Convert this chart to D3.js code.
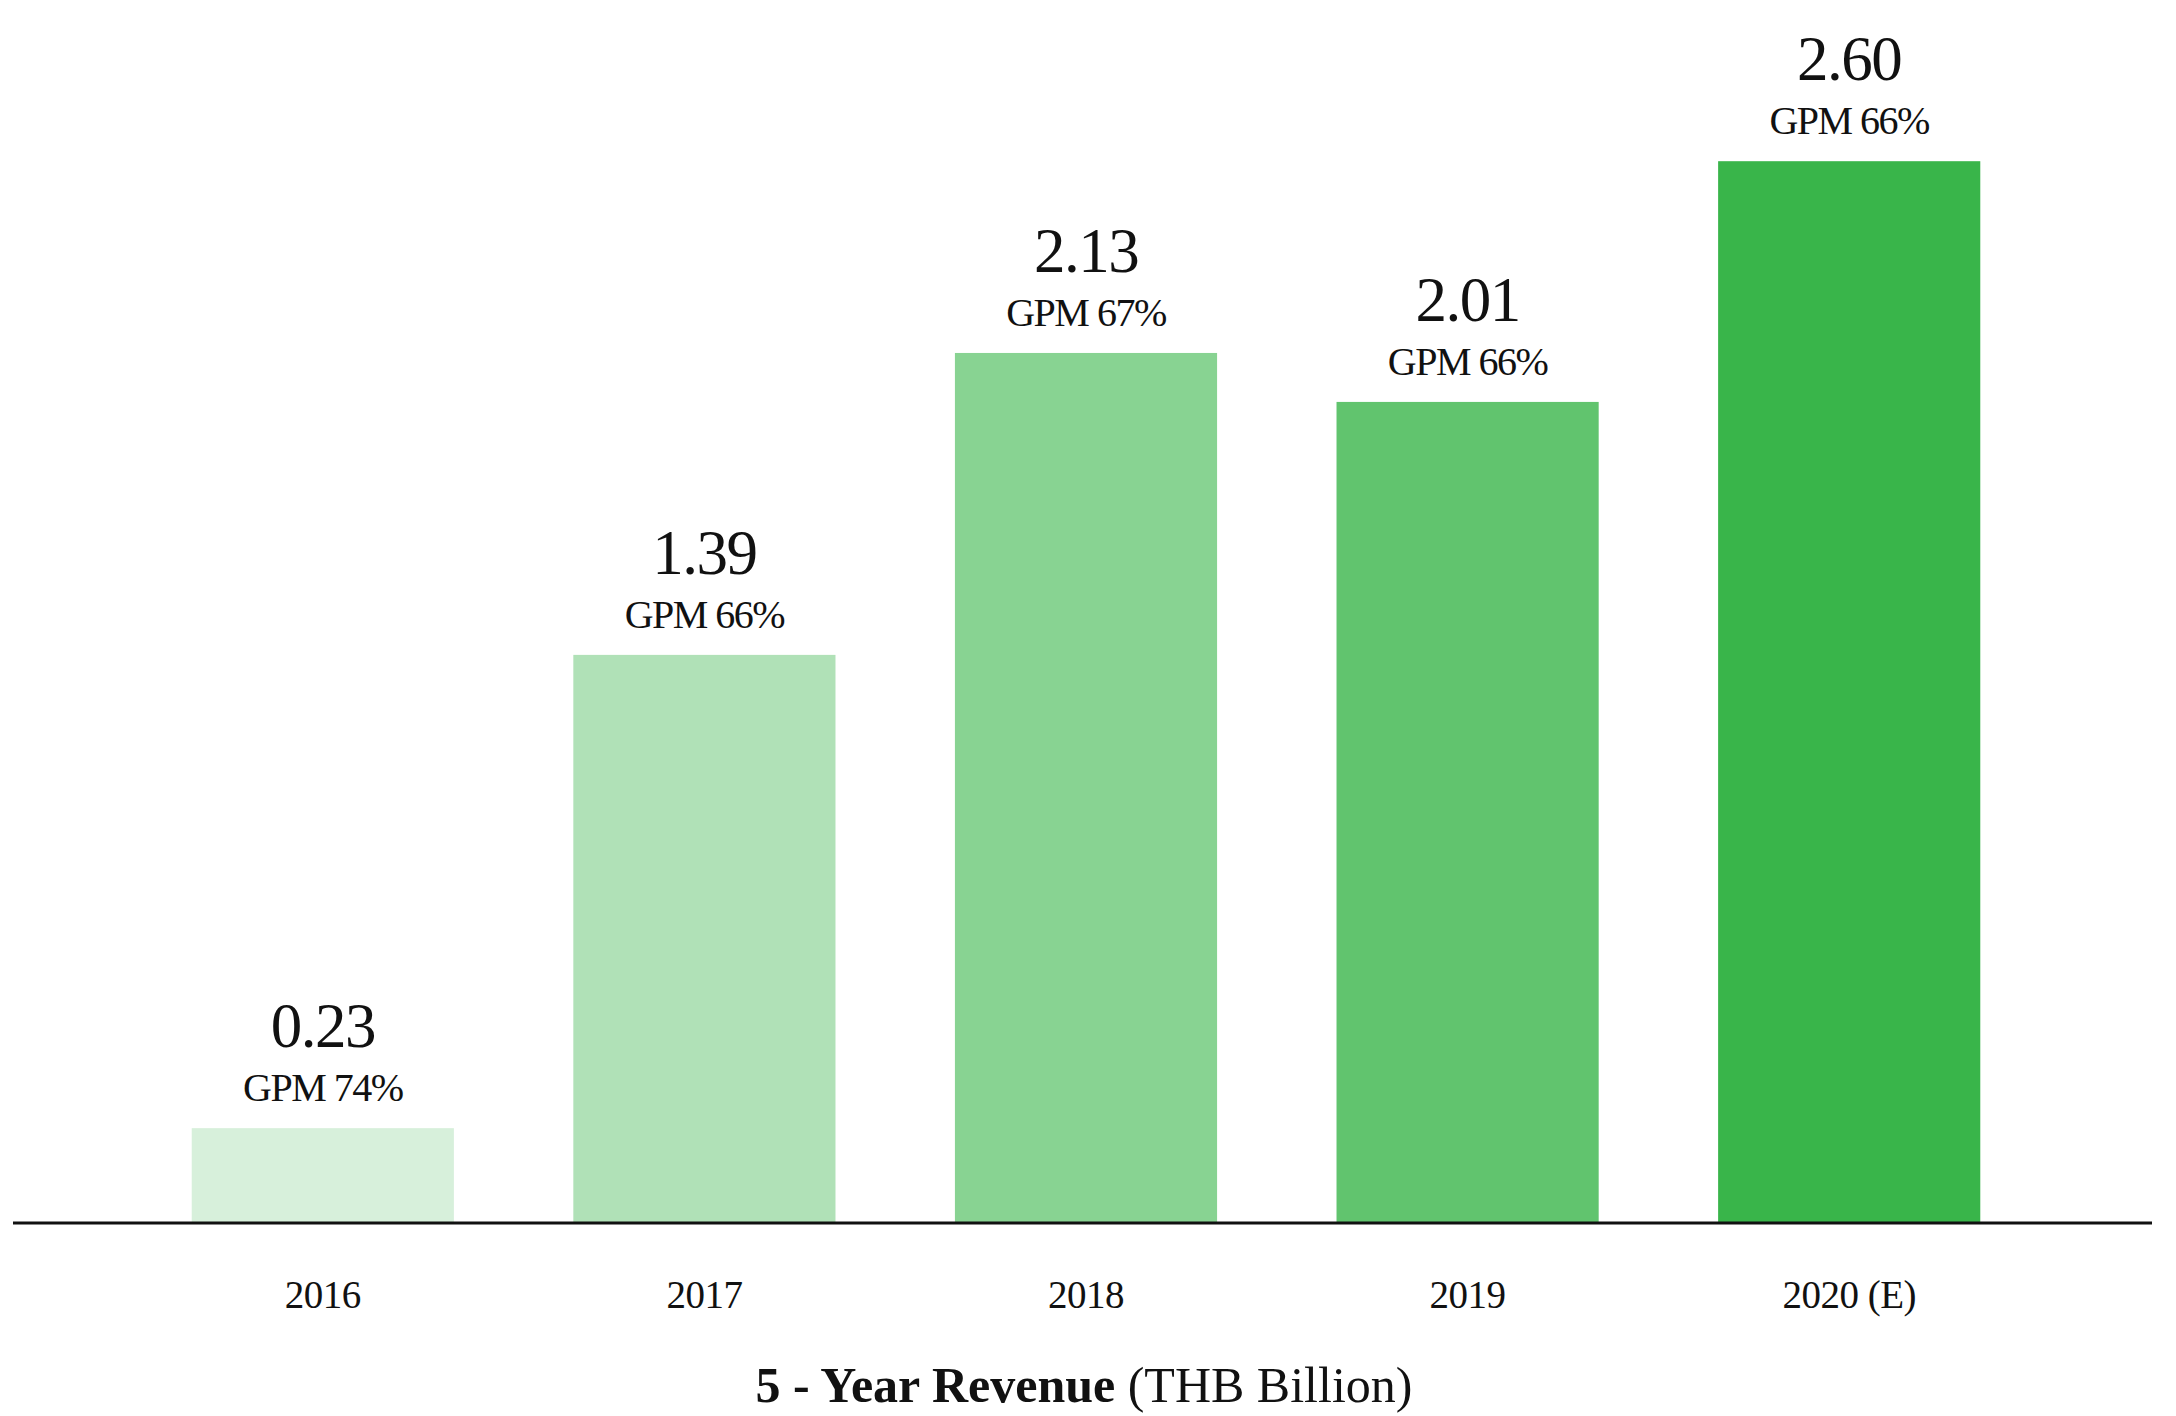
<!DOCTYPE html>
<html>
<head>
<meta charset="utf-8">
<script src="https://cdn.jsdelivr.net/npm/d3@7/dist/d3.min.js"></script>
<style>
  html, body { margin: 0; padding: 0; background: #ffffff; }
  svg { display: block; }
  text { font-family: "Liberation Serif", "DejaVu Serif", serif; fill: #111; }
</style>
</head>
<body>
<svg id="chart" width="2176" height="1416"></svg>
<script>
// Revenue by year (THB billion) and gross profit margin
const years = ["2016", "2017", "2018", "2019", "2020 (E)"];
const revenue = [0.23, 1.39, 2.13, 2.01, 2.60];
const gpm = [74, 66, 67, 66, 66];
const valueLabels = ["0.23", "1.39", "2.13", "2.01", "2.60"];

// Fill shades, light to full green
const palette = ["#d7f0db", "#b0e1b7", "#88d392", "#61c46e", "#39b54a"];

const W = 2176, H = 1416;
const baseY = 1222;

const svg = d3.select("#chart");

const x = d3.scaleBand()
  .domain(years)
  .range([132, 2040])
  .paddingInner(0.313)
  .paddingOuter(0.1565);

const y = d3.scaleLinear()
  .domain([0, 2.6])
  .range([baseY, baseY - 2.6 * 408]);

const rows = years.map((yr, i) => ({ year: yr, value: revenue[i], gpm: gpm[i], label: valueLabels[i], color: palette[i] }));

// Bars
svg.append("g")
  .selectAll("rect")
  .data(rows)
  .join("rect")
  .attr("x", d => x(d.year))
  .attr("y", d => y(d.value))
  .attr("width", x.bandwidth())
  .attr("height", d => y(0) - y(d.value))
  .attr("fill", d => d.color);

// Value and margin labels above each bar
const labels = svg.append("g");
labels.selectAll("text.val")
  .data(rows)
  .join("text")
  .attr("class", "val")
  .attr("x", d => x(d.year) + x.bandwidth() / 2)
  .attr("y", d => y(d.value) - 81)
  .attr("text-anchor", "middle")
  .attr("font-size", 63)
  .attr("letter-spacing", -1.5)
  .text(d => d.label);

labels.selectAll("text.gpm")
  .data(rows)
  .join("text")
  .attr("class", "gpm")
  .attr("x", d => x(d.year) + x.bandwidth() / 2)
  .attr("y", d => y(d.value) - 27)
  .attr("text-anchor", "middle")
  .attr("font-size", 40)
  .attr("letter-spacing", -1.5)
  .text(d => `GPM ${d.gpm}%`);

// Category axis
const axis = svg.append("g")
  .attr("transform", `translate(0,${baseY})`)
  .call(d3.axisBottom(x).tickSize(0).tickPadding(0));
axis.select(".domain").remove();
axis.selectAll(".tick text")
  .attr("y", 86)
  .attr("dy", 0)
  .attr("font-size", 39)
  .attr("letter-spacing", -0.5)
  .attr("font-family", "Liberation Serif, serif")
  .attr("fill", "#111");

// Baseline
svg.append("line")
  .attr("x1", 13).attr("x2", 2152)
  .attr("y1", baseY + 1).attr("y2", baseY + 1)
  .attr("stroke", "#111")
  .attr("stroke-width", 3);

// Chart title
const title = svg.append("text")
  .attr("x", 1084)
  .attr("y", 1402)
  .attr("text-anchor", "middle")
  .attr("font-size", 50);
title.append("tspan").attr("font-weight", "bold").text("5 - Year Revenue ");
title.append("tspan").text("(THB Billion)");
</script>
</body>
</html>
